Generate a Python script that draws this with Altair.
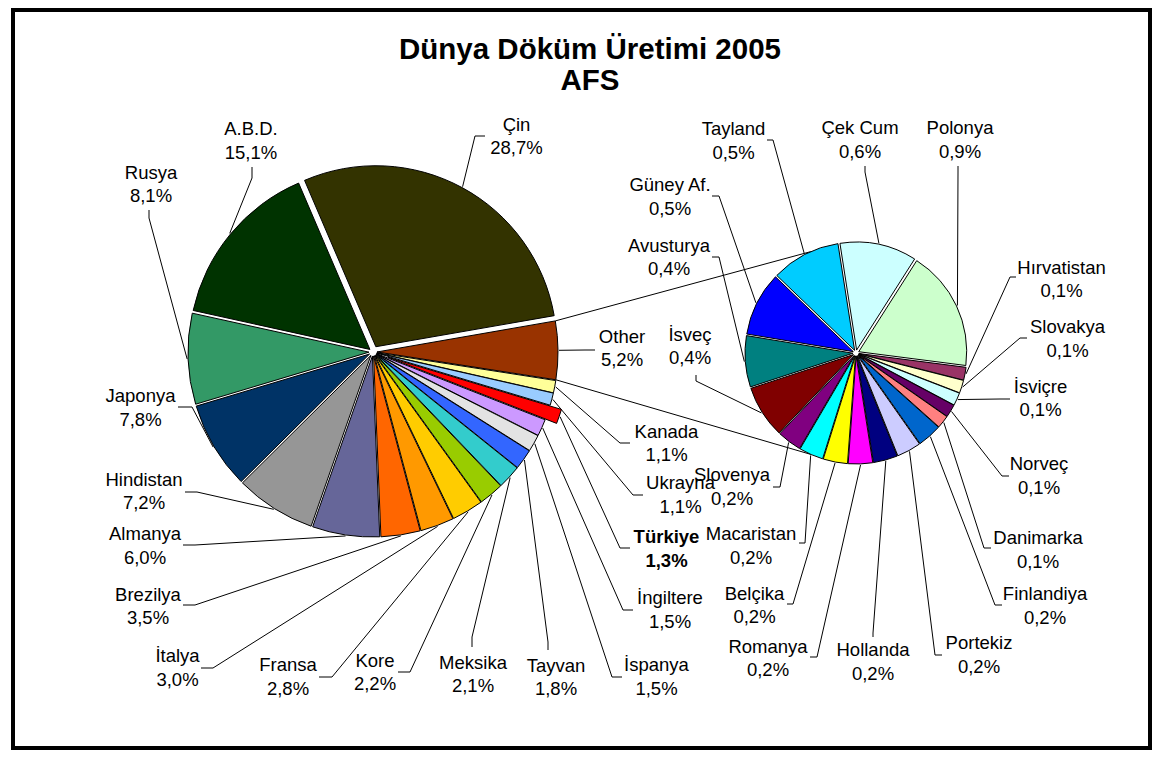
import math
import altair as alt
import pandas as pd

# ---------------- data ----------------
title_lines = ["Dünya Döküm Üretimi 2005", "AFS"]
highlight = "Türkiye"

# main pie, clockwise order
main_names = ["Çin", "Other", "Kanada", "Ukrayna", "Türkiye", "İngiltere", "İspanya",
              "Tayvan", "Meksika", "Kore", "Fransa", "İtalya", "Brezilya", "Almanya",
              "Hindistan", "Japonya", "Rusya", "A.B.D."]
main_values = [28.7, 5.2, 1.1, 1.1, 1.3, 1.5, 1.5, 1.8, 2.1, 2.2, 2.8, 3.0, 3.5, 6.0,
               7.2, 7.8, 8.1, 15.1]
main_colors = ["#333300", "#993300", "#FFFF99", "#99CCFF", "#FF0000", "#CC99FF", "#E3E3E3",
               "#3366FF", "#33CCCC", "#99CC00", "#FFCC00", "#FF9900", "#FF6600", "#666699",
               "#969696", "#003366", "#339966", "#003300"]

# secondary pie (breakdown of "Other"), clockwise order
sec_names = ["Polonya", "Hırvatistan", "Slovakya", "İsviçre", "Norveç", "Danimarka",
             "Finlandiya", "Portekiz", "Hollanda", "Romanya", "Belçika", "Macaristan",
             "Slovenya", "İsveç", "Avusturya", "Güney Af.", "Tayland", "Çek Cum"]
sec_values = [0.94, 0.10, 0.10, 0.10, 0.10, 0.10, 0.19, 0.19, 0.19, 0.19, 0.19, 0.19,
              0.19, 0.41, 0.40, 0.50, 0.54, 0.60]
sec_colors = ["#CCFFCC", "#993366", "#FFFFCC", "#CCFFFF", "#660066", "#FF8080", "#0066CC",
              "#CCCCFF", "#000080", "#FF00FF", "#FFFF00", "#00FFFF", "#800080", "#800000",
              "#008080", "#0000FF", "#00CCFF", "#CCFFFF"]

# ---------------- layout ----------------
FONT = "Liberation Sans"
LINE_H = 23.5
MAIN_C, MAIN_R, MAIN_START, MAIN_E = (373, 352), 181, -23.2, 4
SEC_C, SEC_R, SEC_START, SEC_E = (856, 353), 108, 32.5, 3
EXPLODE = {"Çin": 6, "Türkiye": 16}
CONNECT_SPREAD = 66  # degrees either side of 9 o'clock on the secondary pie

# label block centre (tx, ty), leader elbow (ex, ey), tick direction and length
label_layout = {
    "Çin": (516.5, 136.7, 475, 136, "r", 10),
    "A.B.D.": (251, 141, 252, 178, "u", 11),
    "Rusya": (151, 184.5, 149, 218, "u", 8),
    "Japonya": (140.5, 408, 192, 407, "l", 14),
    "Hindistan": (144, 491.5, 197, 492, "l", 12),
    "Almanya": (145, 546, 195, 545, "l", 12),
    "Brezilya": (148, 606.5, 195, 605, "l", 12),
    "İtalya": (177.5, 668, 213, 668, "l", 12),
    "Fransa": (288, 677, 332, 677, "l", 13),
    "Kore": (375, 672.5, 410, 672, "l", 12),
    "Meksika": (473, 674.5, 472, 637, "d", 10),
    "Tayvan": (556, 677.5, 548, 642, "d", 8),
    "İspanya": (656.5, 677, 612, 677, "r", 10),
    "İngiltere": (670, 610, 623, 610, "r", 10),
    "Türkiye": (666.5, 549, 620, 548, "r", 10),
    "Ukrayna": (680.5, 495, 633, 495, "r", 10),
    "Kanada": (666.5, 443.5, 620, 443, "r", 10),
    "Other": (622, 348.5, 585, 350, "r", 10),
    "Polonya": (960, 140, 958, 172, "u", 6),
    "Çek Cum": (860, 140, 865, 172, "u", 6),
    "Tayland": (733.5, 141, 773, 140, "l", 6),
    "Güney Af.": (670, 197, 719, 196, "l", 7),
    "Avusturya": (669, 257.5, 719, 257, "l", 7),
    "İsveç": (690, 346.5, 696, 381, "u", 6),
    "Slovenya": (732, 487, 780, 487, "l", 7),
    "Macaristan": (751, 546, 805, 543, "l", 6),
    "Belçika": (754.5, 605.5, 793, 604, "l", 6),
    "Romanya": (768, 658.5, 817, 657, "l", 7),
    "Hollanda": (873, 662, 873, 633, "d", 4),
    "Portekiz": (979, 655, 935, 655, "r", 7),
    "Finlandiya": (1045, 606, 995, 605, "r", 7),
    "Danimarka": (1038, 550, 984, 548, "r", 7),
    "Norveç": (1039, 476, 1002, 476, "r", 7),
    "İsviçre": (1040.5, 398.5, 1000, 399, "r", 10),
    "Slovakya": (1067.5, 339, 1020, 338, "r", 7),
    "Hırvatistan": (1061.5, 279.5, 1010, 277, "r", 6),
}
DIRS = {"l": (-1, 0), "r": (1, 0), "u": (0, -1), "d": (0, 1)}


def fmt(v):
    return f"{v:.1f}".replace(".", ",") + "%"


def build(names, values, colors, c, r, start, e_def, group):
    total = sum(values)
    rows, cum = [], 0.0
    for n, v, col in zip(names, values, colors):
        t0, t1 = cum, cum + v
        a0 = math.radians(start + t0 / total * 360)
        a1 = math.radians(start + t1 / total * 360)
        mid = (a0 + a1) / 2
        e = EXPLODE.get(n, e_def)
        cx, cy = c[0] + e * math.sin(mid), c[1] - e * math.cos(mid)
        rows.append(dict(name=n, value=v, t0=t0, t1=t1, color=col, cx=cx, cy=cy,
                         a0=a0, a1=a1, r=r,
                         px=cx + (r + 1) * math.sin(mid), py=cy - (r + 1) * math.cos(mid),
                         group=group))
        cum = t1
    return pd.DataFrame(rows), total


main_df, main_total = build(main_names, main_values, main_colors, MAIN_C, MAIN_R,
                            MAIN_START, MAIN_E, "main")
sec_df, sec_total = build(sec_names, sec_values, sec_colors, SEC_C, SEC_R,
                          SEC_START, SEC_E, "sec")
all_df = pd.concat([main_df, sec_df], ignore_index=True)

# labels (Vega puts the first line at y, so shift by half a line)
lab_rows, lead_rows = [], []
for _, row in all_df.iterrows():
    tx, ty, ex, ey, d, ln = label_layout[row["name"]]
    lab_rows.append(dict(name=row["name"], tx=tx, ty=ty - LINE_H / 2,
                         label=row["name"] + "\n" + fmt(row["value"]),
                         bold=row["name"] == highlight))
    dx, dy = DIRS[d]
    for k, (x, y) in enumerate([(row["px"], row["py"]), (ex, ey),
                                (ex + dx * ln, ey + dy * ln)]):
        lead_rows.append(dict(name=row["name"], k=k, x=x, y=y))
lab_df = pd.DataFrame(lab_rows)
lead_df = pd.DataFrame(lead_rows)

# connector lines from the "Other" slice to the secondary pie
oth = main_df[main_df["name"] == "Other"].iloc[0]
conn_rows = []
for i, (a, sa) in enumerate([(oth["a0"], math.radians(270 + CONNECT_SPREAD)),
                             (oth["a1"], math.radians(270 - CONNECT_SPREAD))]):
    conn_rows.append(dict(line=i, k=0, x=oth["cx"] + MAIN_R * math.sin(a),
                          y=oth["cy"] - MAIN_R * math.cos(a)))
    conn_rows.append(dict(line=i, k=1, x=SEC_C[0] + (SEC_R + SEC_E) * math.sin(sa),
                          y=SEC_C[1] - (SEC_R + SEC_E) * math.cos(sa)))
conn_df = pd.DataFrame(conn_rows)

# ---------------- chart ----------------
xs = alt.Scale(domain=[13, 1150], range=[0, 1137], nice=False, zero=False)
ys = alt.Scale(domain=[10, 748], range=[0, 738], nice=False, zero=False)


def X(f):
    return alt.X(f"{f}:Q", scale=xs, axis=None)


def Y(f):
    return alt.Y(f"{f}:Q", scale=ys, axis=None)


conn = alt.Chart(conn_df).mark_line(color="black", strokeWidth=1).encode(
    x=X("x"), y=Y("y"), detail="line:N", order="k:Q")

leaders = alt.Chart(lead_df).mark_line(color="black", strokeWidth=1).encode(
    x=X("x"), y=Y("y"), detail="name:N", order="k:Q")


def pie(df, total, start, r):
    a0 = math.radians(start)
    return alt.Chart(df).mark_arc(radius=r, stroke="black", strokeWidth=1).encode(
        x=X("cx"), y=Y("cy"),
        theta=alt.Theta("t0:Q", scale=alt.Scale(domain=[0, total],
                                                range=[a0, a0 + 2 * math.pi])),
        theta2=alt.Theta2("t1"),
        color=alt.Color("color:N", scale=None),
    )


main_pie = pie(main_df, main_total, MAIN_START, MAIN_R)
sec_pie = pie(sec_df, sec_total, SEC_START, SEC_R)


def label_layer(bold):
    return alt.Chart(lab_df).transform_filter(
        alt.datum.bold if bold else ~alt.datum.bold
    ).mark_text(
        font=FONT, fontSize=18.5, lineBreak="\n", lineHeight=LINE_H,
        align="center", baseline="middle", color="black",
        fontWeight="bold" if bold else "normal",
    ).encode(x=X("tx"), y=Y("ty"), text="label:N")


title = alt.Chart(pd.DataFrame({"t": ["\n".join(title_lines)]})).mark_text(
    font=FONT, fontSize=29.5, fontWeight="bold", lineBreak="\n", lineHeight=30.6,
    align="center", baseline="middle", color="black",
).encode(x=alt.value(590 - 13), y=alt.value(50 - 10), text="t:N")

chart = alt.layer(conn, leaders, main_pie, sec_pie, label_layer(False), label_layer(True),
                  title).resolve_scale(
    theta="independent"
).properties(
    width=1137, height=738,
    padding={"left": 5, "top": 2, "right": 4, "bottom": 2},
    autosize="none", background="white",
).configure_view(stroke="black", strokeWidth=4)

chart.save("out.html", embed_options={"renderer": "svg", "actions": False})
